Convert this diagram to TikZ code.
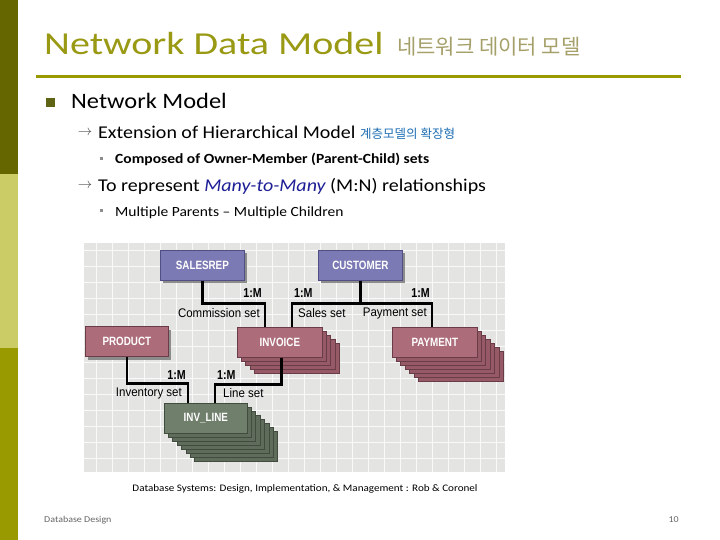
\documentclass[tikz,border=0pt]{standalone}
\usepackage{fontspec}
\setmainfont[FakeStretch=1.11]{Carlito}
\newfontfamily\titlefont[FakeStretch=1.25]{Carlito}
\newfontfamily\kr{Noto Sans CJK KR}
\newfontfamily\dg[FakeStretch=0.82]{Liberation Sans}
\newfontfamily\dgl[FakeStretch=0.92]{Liberation Sans}
\usetikzlibrary{calc}
\definecolor{oliveA}{RGB}{102,102,0}
\definecolor{oliveB}{RGB}{204,204,102}
\definecolor{oliveC}{RGB}{153,153,0}
\definecolor{titlecol}{RGB}{153,153,20}
\definecolor{krgray}{RGB}{165,160,105}
\definecolor{krblue}{RGB}{30,110,180}
\definecolor{navy}{RGB}{30,30,150}
\definecolor{bulletcol}{RGB}{95,100,20}
\definecolor{bggray}{RGB}{228,228,226}
\definecolor{purF}{RGB}{124,122,180}
\definecolor{purE}{RGB}{80,78,130}
\definecolor{roseF}{RGB}{172,108,122}
\definecolor{roseL}{RGB}{150,90,102}
\definecolor{roseE}{RGB}{105,60,72}
\definecolor{grnF}{RGB}{112,126,108}
\definecolor{grnL}{RGB}{95,108,92}
\definecolor{grnE}{RGB}{65,75,62}
\tikzset{
  ent/.style={minimum width=#1, minimum height=30pt, inner sep=0pt, text=white, font=\dg\bfseries\fontsize{12}{12}\selectfont},
  lbl/.style={font=\dgl\fontsize{12.5}{12}\selectfont, inner sep=0pt},
  card/.style={font=\dg\bfseries\fontsize{13}{12}\selectfont, inner sep=0pt},
  link/.style={line width=2.6pt, black},
  txt/.style={anchor=base west, inner sep=0pt},
}
\newcommand\stackbox[6]{% x y w layers fillL edge
  \foreach \i in {#4,...,1}{
    \fill[#5, draw=#6, line width=0.7pt] (#1+4.4*\i, #2+4*\i) rectangle ++(#3,30);
  }
}
\begin{document}
\begin{tikzpicture}[x=1pt,y=-1pt]
\useasboundingbox (0,0) rectangle (720,540);
\fill[white] (0,0) rectangle (720,540);
% sidebar
\fill[oliveA] (0,0) rectangle (18,174);
\fill[oliveB] (0,174) rectangle (18,348);
\fill[oliveC] (0,348) rectangle (18,540);
% title
\node[txt, text=titlecol, font=\titlefont\fontsize{32}{32}\selectfont] (title) at (44,55) {Network Data Model};
\node[txt, text=krgray, font=\kr\fontsize{21}{21}\selectfont] (titlekr) at (397,55) {네트워크 데이터 모델};
\draw[oliveC, line width=3pt] (36,77) -- (681,77);
% bullets
\fill[bulletcol] (46,98) rectangle (55,107);
\node[txt, font=\fontsize{22}{22}\selectfont] (nm) at (71,109) {Network Model};
\node[anchor=center, inner sep=0pt, text=black!70, font=\fontsize{14}{14}\selectfont] (ar1) at (85,133) {$\rightarrow$};
\node[txt, font=\fontsize{18}{18}\selectfont] (ext) at (98,139) {Extension of Hierarchical Model};
\node[txt, text=krblue, font=\kr\fontsize{12.5}{12}\selectfont] (extkr) at (360,139) {계층모델의 확장형};
\fill[black!45] (99.5,157.5) rectangle (102.5,160.5);
\node[txt, font=\bfseries\fontsize{14}{14}\selectfont] (comp) at (115,164) {Composed of Owner-Member (Parent-Child) sets};
\node[anchor=center, inner sep=0pt, text=black!70, font=\fontsize{14}{14}\selectfont] (ar2) at (85,186) {$\rightarrow$};
\node[txt, font=\fontsize{18}{18}\selectfont] (torep) at (98,192) {To represent \textcolor{navy}{\itshape Many-to-Many} (M:N) relationships};
\fill[black!45] (99.5,209.5) rectangle (102.5,212.5);
\node[txt, font=\fontsize{14}{14}\selectfont] (mult) at (115,216) {Multiple Parents -- Multiple Children};
% diagram background
\fill[bggray] (84,243) rectangle (505,472);
\begin{scope}
\clip (84,243) rectangle (505,472);
\foreach \x in {96,112,128,144,160,176,192,208,224,240,256,272,288,304,320,336,352,368,384,400,416,432,448,464,480,496}
  \draw[white, line width=0.6pt, opacity=0.8] (\x,243) -- (\x,472);
\foreach \y in {250,266,282,298,314,330,346,362,378,394,410,426,442,458}
  \draw[white, line width=0.6pt, opacity=0.8] (84,\y) -- (505,\y);
\end{scope}
% stacks
\stackbox{237}{327}{85}{4}{roseL}{roseE}
\stackbox{392}{327}{85}{6}{roseL}{roseE}
\stackbox{164}{403}{83}{7}{grnL}{grnE}
% shadows of single boxes
\fill[black!45] (163,253) rectangle ++(84,30);
\fill[black!45] (321,253) rectangle ++(84,30);
\fill[black!45] (88,330) rectangle ++(83,30);
% entity boxes
\node[ent=84pt, fill=purF, draw=purE, line width=0.7pt, anchor=north west] (sales) at (160,250) {SALESREP};
\node[ent=84pt, fill=purF, draw=purE, line width=0.7pt, anchor=north west] (cust) at (318,250) {CUSTOMER};
\node[ent=83pt, fill=roseF, draw=roseE, line width=0.7pt, anchor=north west] (prod) at (85,326) {PRODUCT};
\node[ent=85pt, fill=roseF, draw=roseE, line width=0.7pt, anchor=north west] (inv) at (237,327) {INVOICE};
\node[ent=85pt, fill=roseF, draw=roseE, line width=0.7pt, anchor=north west] (pay) at (392,327) {PAYMENT};
\node[ent=83pt, fill=grnF, draw=grnE, line width=0.7pt, anchor=north west] (invl) at (164,403) {INV\_LINE};
% connectors
\draw[link] (sales.south) -- ++(0,23) -| ([xshift=28pt]inv.north west);
\draw[link] (cust.south) -- ++(0,23) coordinate (cj);
\draw[link] (cj) -| ([xshift=55pt]inv.north west);
\draw[link] (cj) -| ([xshift=40pt]pay.north west);
\draw[link] (prod.south) -- ++(0,27) -| ([xshift=24pt]invl.north west);
\draw[link] ([xshift=1.5pt]inv.south) -- ++(0,27) -| ([xshift=51pt]invl.north west);
% labels
\node[card, anchor=east] (c1) at (262,293) {1:M};
\node[card, anchor=west] (c2) at (294,293) {1:M};
\node[card, anchor=east] (c3) at (430,293) {1:M};
\node[card, anchor=east] (c4) at (186,375) {1:M};
\node[card, anchor=west] (c5) at (217,375) {1:M};
\node[lbl, anchor=east] (l1) at (260,313) {Commission set};
\node[lbl, anchor=west] (l2) at (298,313) {Sales set};
\node[lbl, anchor=east] (l3) at (427,313) {Payment set};
\node[lbl, anchor=east] (l4) at (182,393) {Inventory set};
\node[lbl, anchor=west] (l5) at (223,393) {Line set};
% caption & footer
\node[font=\fontsize{10}{10}\selectfont, inner sep=0pt] (cap) at (305,489) {Database Systems: Design, Implementation, \& Management : Rob \& Coronel};
\node[txt, text=black!60, font=\fontsize{9}{9}\selectfont] (foot) at (44,522) {Database Design};
\node[anchor=base east, inner sep=0pt, text=black!60, font=\fontsize{9}{9}\selectfont] (pg) at (679,522) {10};
\end{tikzpicture}
\end{document}
